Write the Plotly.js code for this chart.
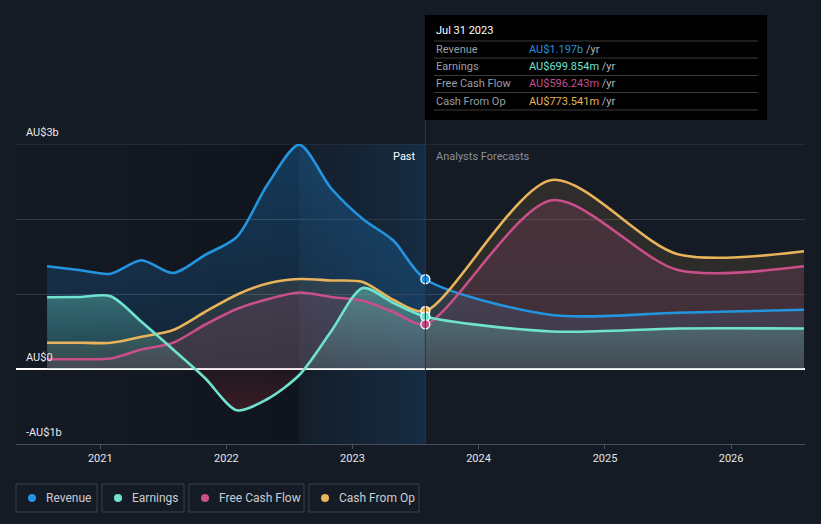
<!DOCTYPE html>
<html>
<head>
<meta charset="utf-8">
<script src="https://cdn.plot.ly/plotly-3.0.1.min.js"></script>
<style>
html,body{margin:0;padding:0;background:#151b25;}
#chart{width:821px;height:524px;}
</style>
</head>
<body>
<div id="chart"></div>
<script>
// ---- data (values in AU$ billions) ----
const dates = ['2020-07-31','2020-10-31','2021-01-31','2021-04-30','2021-07-31','2021-10-31',
  '2022-01-31','2022-04-30','2022-07-31','2022-10-31','2023-01-31','2023-04-30','2023-07-31',
  '2024-07-31','2025-07-31','2026-07-31'];
const revenue   = [1.37,1.32,1.27,1.45,1.28,1.52,1.76,2.46,2.99,2.41,2.00,1.71,1.197,0.72,0.75,0.79];
const earnings  = [0.956,0.96,0.97,0.63,0.26,-0.12,-0.55,-0.40,-0.08,0.50,1.08,0.88,0.6999,0.50,0.54,0.54];
const fcf       = [0.13,0.13,0.14,0.26,0.35,0.59,0.80,0.93,1.02,0.96,0.91,0.76,0.5962,2.25,1.32,1.37];
const cfo       = [0.35,0.35,0.35,0.43,0.52,0.76,0.99,1.14,1.20,1.18,1.16,0.92,0.7735,2.52,1.53,1.57];
const seriesNames = ['Revenue','Earnings','Free Cash Flow','Cash From Op'];
const tooltipDate = 'Jul 31 2023';
const tooltipValues = ['AU$1.197b','AU$699.854m','AU$596.243m','AU$773.541m'];
const xTickVals = ['2021-01-01','2022-01-01','2023-01-01','2024-01-01','2025-01-01','2026-01-01'];
const xTickText = ['2021','2022','2023','2024','2025','2026'];
const yLabelVals = [3,0,-1];
const yLabelText = ['AU$3b','AU$0','-AU$1b'];
const pastStart = '2022-07-31', pastEnd = '2023-07-31';
const xStart = '2020-05-02', xEnd = '2026-08-03';

// ---- styling ----
const colors = {rev:'#2394df', earn:'#6fe3cf', fcf:'#c94f8a', cfo:'#e8b35a'};
const L=16, R=805, T=144, B=444;
const px = x => (x-L)/(R-L);
const py = y => (B-y)/(B-T);
const FONT = 'Roboto, "Open Sans", sans-serif';
const SMOOTH = 0.8;

function fillTrace(y, grad, fc){
  return {x:dates, y:y, type:'scatter', mode:'lines', line:{width:0, shape:'spline', smoothing:SMOOTH},
    fill:'tozeroy', fillcolor:fc, fillgradient:grad, hoverinfo:'skip', showlegend:false};
}
function lineTrace(y, c){
  return {x:dates, y:y, type:'scatter', mode:'lines', line:{width:2.6, color:c, shape:'spline', smoothing:SMOOTH},
    hoverinfo:'skip', showlegend:false};
}
const idx = dates.indexOf(pastEnd);
function dotTrace(y, c){
  return {x:[dates[idx]], y:[y[idx]], type:'scatter', mode:'markers',
    marker:{size:9, color:c, line:{color:'#ffffff', width:1.3}}, hoverinfo:'skip', showlegend:false};
}

const traces = [
  fillTrace(revenue, {type:'vertical', start:0, stop:3,
    colorscale:[[0,'rgba(33,150,243,0.10)'],[1,'rgba(33,150,243,0.28)']]}, 'rgba(33,150,243,0.18)'),
  fillTrace(cfo, {type:'vertical', start:0, stop:2.5,
    colorscale:[[0,'rgba(232,179,90,0.10)'],[1,'rgba(232,179,90,0.12)']]}, 'rgba(232,179,90,0.11)'),
  fillTrace(fcf, {type:'vertical', start:0, stop:2.3,
    colorscale:[[0,'rgba(201,79,138,0.12)'],[1,'rgba(201,79,138,0.18)']]}, 'rgba(201,79,138,0.15)'),
  fillTrace(earnings, {type:'vertical', start:-0.6, stop:1.1,
    colorscale:[[0,'rgba(170,40,50,0.28)'],[0.35,'rgba(170,40,50,0.10)'],[0.353,'rgba(111,227,207,0.10)'],[1,'rgba(111,227,207,0.38)']]},
    'rgba(111,227,207,0.2)'),
  lineTrace(revenue, colors.rev),
  lineTrace(cfo, colors.cfo),
  lineTrace(fcf, colors.fcf),
  lineTrace(earnings, colors.earn),
  dotTrace(revenue, colors.rev),
  dotTrace(cfo, colors.cfo),
  dotTrace(earnings, colors.earn),
  dotTrace(fcf, colors.fcf)
];

// ---- background shapes ----
const shapes = [];
function dateAdd(d0, d1, f){
  const a = new Date(d0).getTime(), b = new Date(d1).getTime();
  return new Date(a + (b-a)*f).toISOString().slice(0,10);
}
// darkening band before the past region
const nDark = 10;
for(let i=0;i<nDark;i++){
  shapes.push({type:'rect', xref:'x', yref:'paper', x0:dateAdd(xStart,pastStart,i/nDark), x1:dateAdd(xStart,pastStart,(i+1)/nDark),
    y0:0, y1:1, fillcolor:'rgba(0,0,0,'+(0.2*(i+1)/nDark).toFixed(3)+')', line:{width:0}, layer:'below'});
}
// past (last 12 months) blue band
const nPast = 10;
for(let i=0;i<nPast;i++){
  shapes.push({type:'rect', xref:'x', yref:'paper', x0:dateAdd(pastStart,pastEnd,i/nPast), x1:dateAdd(pastStart,pastEnd,(i+1)/nPast),
    y0:0, y1:1, fillcolor:'rgba(25,95,155,'+(0.03+0.21*(i+1)/nPast).toFixed(3)+')', line:{width:0}, layer:'below'});
}
// top gridline (3b)
shapes.push({type:'line', xref:'paper', yref:'y', x0:0, x1:1, y0:3, y1:3, line:{color:'#333a45', width:1}, layer:'below'});
// hover line
shapes.push({type:'line', xref:'x', yref:'paper', x0:pastEnd, x1:pastEnd, y0:0, y1:py(120), line:{color:'#173a58', width:1}});
// tooltip box
shapes.push({type:'rect', xref:'paper', yref:'paper', x0:px(425), x1:px(767), y0:py(120), y1:py(15), fillcolor:'#000000', line:{width:0}});
[41,58,75.5,92.5,110].forEach(y=>{
  shapes.push({type:'line', xref:'paper', yref:'paper', x0:px(434), x1:px(758), y0:py(y), y1:py(y), line:{color:'#3a3a3a', width:1}});
});
// legend boxes
const legBoxes = [[16,97],[102,184],[189,304],[309,419]];
const legColors = [colors.rev, colors.earn, colors.fcf, colors.cfo];
legBoxes.forEach((b,i)=>{
  shapes.push({type:'rect', xref:'paper', yref:'paper', x0:px(b[0]), x1:px(b[1]), y0:py(512), y1:py(484),
    fillcolor:'rgba(0,0,0,0)', line:{color:'#3b414b', width:1}});
  const cx = b[0]+16, cy = 498;
  shapes.push({type:'circle', xref:'paper', yref:'paper', x0:px(cx-4), x1:px(cx+4), y0:py(cy+4), y1:py(cy-4),
    fillcolor:legColors[i], line:{width:0}});
});

// ---- annotations ----
const ann = [];
yLabelVals.forEach((v,i)=>{
  ann.push({xref:'paper', yref:'y', x:px(24), y:v, yshift:12, xanchor:'left', yanchor:'middle', showarrow:false,
    text:yLabelText[i], font:{family:FONT, size:11, color:'#e8e8e8'}});
});
ann.push({xref:'paper', yref:'paper', x:px(418), y:py(156), xanchor:'right', yanchor:'middle', showarrow:false,
  text:'Past', font:{family:FONT, size:11, color:'#ffffff'}});
ann.push({xref:'paper', yref:'paper', x:px(434), y:py(156), xanchor:'left', yanchor:'middle', showarrow:false,
  text:'Analysts Forecasts', font:{family:FONT, size:11, color:'#8b9099'}});
// tooltip text
ann.push({xref:'paper', yref:'paper', x:px(434), y:py(31), xanchor:'left', yanchor:'middle', showarrow:false,
  text:tooltipDate, font:{family:FONT, size:11, color:'#ffffff'}});
const rowY = [49,66,83.5,101];
seriesNames.forEach((n,i)=>{
  ann.push({xref:'paper', yref:'paper', x:px(434), y:py(rowY[i]), xanchor:'left', yanchor:'middle', showarrow:false,
    text:n, font:{family:FONT, size:11, color:'#9a9ea5'}});
  ann.push({xref:'paper', yref:'paper', x:px(527), y:py(rowY[i]), xanchor:'left', yanchor:'middle', showarrow:false,
    text:'<span style="color:'+legColors[i]+'">'+tooltipValues[i]+'</span> /yr', font:{family:FONT, size:11, color:'#b0b4ba'}});
});
// legend text
legBoxes.forEach((b,i)=>{
  ann.push({xref:'paper', yref:'paper', x:px(b[0]+28), y:py(498), xanchor:'left', yanchor:'middle', showarrow:false,
    text:seriesNames[i], font:{family:FONT, size:12, color:'#c9ccd1'}});
});

const layout = {
  width:821, height:524,
  margin:{l:L, r:821-R, t:T, b:524-B},
  paper_bgcolor:'#151b25', plot_bgcolor:'#151b25',
  showlegend:false, hovermode:false,
  font:{family:FONT, color:'#e6e6e6'},
  xaxis:{type:'date', range:[xStart, xEnd], tickvals:xTickVals, ticktext:xTickText,
    showgrid:false, zeroline:false, showline:true, linecolor:'#4a505b', linewidth:1,
    ticks:'outside', ticklen:4, tickcolor:'#4a505b', tickfont:{family:FONT, size:11, color:'#e6e6e6'}, fixedrange:true},
  yaxis:{range:[-1,3], tickvals:[-1,0,1,2,3], showticklabels:false, showgrid:true, gridcolor:'#333a45', gridwidth:1,
    zeroline:true, zerolinecolor:'#ffffff', zerolinewidth:1.3, showline:false, ticks:'', fixedrange:true},
  shapes:shapes, annotations:ann
};
Plotly.newPlot('chart', traces, layout, {displayModeBar:false, staticPlot:true});
</script>
</body>
</html>
